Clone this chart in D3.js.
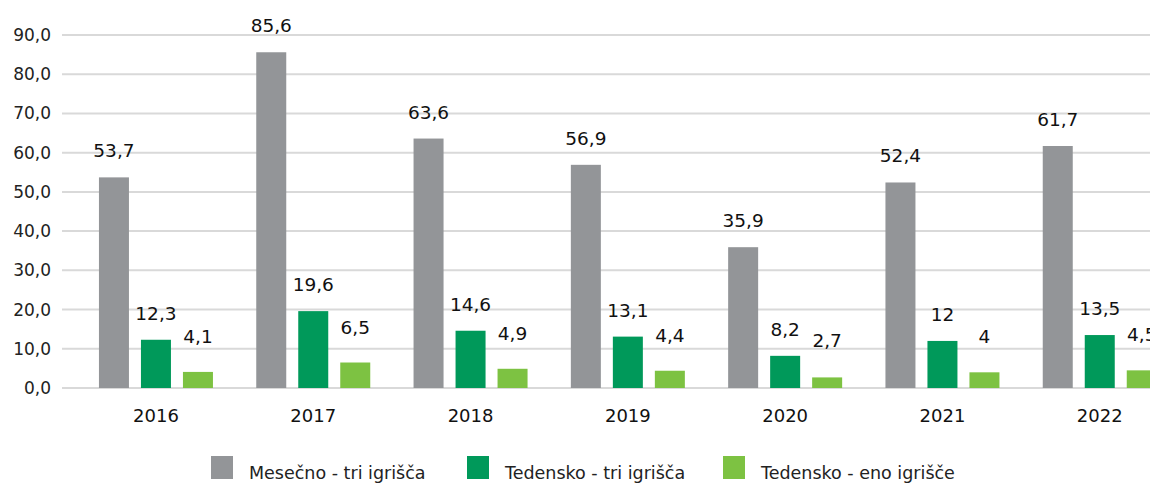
<!DOCTYPE html>
<html><head><meta charset="utf-8">
<script src="https://cdn.jsdelivr.net/npm/d3@7"></script>
<style>body{margin:0;background:#fff;}svg{display:block;font-family:'DejaVu Sans',sans-serif;}</style>
</head><body><svg width="1150" height="483"></svg>
<script>
const years = ["2016","2017","2018","2019","2020","2021","2022"];
const seriesNames = ["Mesečno - tri igrišča","Tedensko - tri igrišča","Tedensko - eno igrišče"];
const mesecno = [53.7,85.6,63.6,56.9,35.9,52.4,61.7];
const tedenskoTri = [12.3,19.6,14.6,13.1,8.2,12,13.5];
const tedenskoEno = [4.1,6.5,4.9,4.4,2.7,4,4.5];
const yTicks = [0,10,20,30,40,50,60,70,80,90];
const colors = ["#939598","#00995a","#7dc242"];
const FONT = "'DejaVu Sans',sans-serif";

const svg = d3.select("svg");
const y = d3.scaleLinear().domain([0,90]).range([388,35]);
const x = d3.scaleBand().domain(years).range([77.3,77.3+7*157.3]).paddingInner(0).paddingOuter(0);
const fmt = v => v.toFixed(1).replace(".",",");

// gridlines
svg.append("g").selectAll("line").data(yTicks).join("line")
  .attr("x1",62).attr("x2",1150).attr("y1",d=>y(d)).attr("y2",d=>y(d))
  .attr("stroke","#d9d9d9").attr("stroke-width",2);

// y-axis labels
const yAxis = d3.axisLeft(y).tickValues(yTicks).tickFormat(fmt).tickSize(0).tickPadding(0);
const ga = svg.append("g").attr("transform","translate(51,0)").call(yAxis);
ga.select(".domain").remove();
ga.selectAll("text").attr("font-size",17).attr("fill","#222").attr("font-family",FONT);

// x-axis labels
const xAxis = d3.axisBottom(x).tickSize(0).tickPadding(0);
const gx = svg.append("g").attr("transform","translate(0,409)").call(xAxis);
gx.select(".domain").remove();
gx.selectAll("text").attr("font-size",18).attr("fill","#111").attr("font-family",FONT);

const data = [mesecno, tedenskoTri, tedenskoEno];
const bw = 30, gap = 12;
const sub = d3.scaleBand().domain([0,1,2]).range([x.bandwidth()/2-57, x.bandwidth()/2+57]).paddingInner(gap/(bw+gap)).paddingOuter(0);

data.forEach((vals, s) => {
  const g = svg.append("g");
  g.selectAll("rect").data(vals).join("rect")
    .attr("x",(d,i)=>x(years[i])+sub(s)).attr("width",sub.bandwidth())
    .attr("y",d=>y(d)).attr("height",d=>y(0)-y(d)).attr("fill",colors[s]);
  g.selectAll("text").data(vals).join("text")
    .attr("x",(d,i)=>x(years[i])+sub(s)+sub.bandwidth()/2)
    .attr("y",d=> s===2 ? Math.min(y(d)-29, 347) : y(d)-20)
    .attr("text-anchor","middle").attr("font-size",18.5).attr("fill","#111")
    .text(d=>String(d).replace(".",","));
});

// legend
const legX = [211,467,723];
const leg = svg.append("g");
seriesNames.forEach((n,i)=>{
  leg.append("rect").attr("x",legX[i]).attr("y",456).attr("width",22).attr("height",23).attr("fill",colors[i]);
  leg.append("text").attr("x",legX[i]+38).attr("y",479).attr("font-size",17.5).attr("fill","#222").text(n);
});
</script></body></html>
